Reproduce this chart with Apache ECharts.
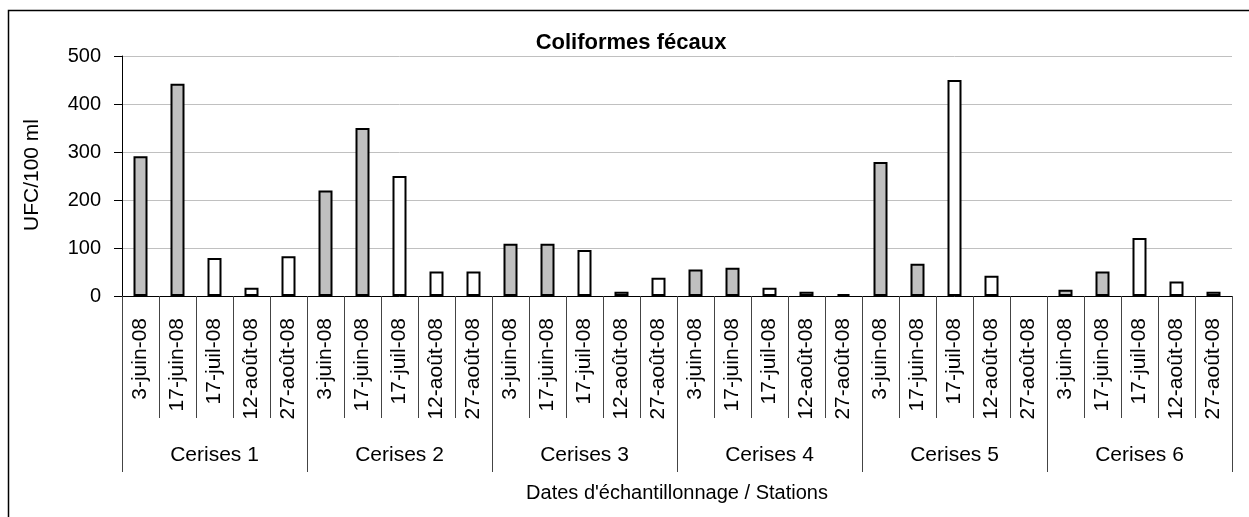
<!DOCTYPE html>
<html>
<head>
<meta charset="utf-8">
<script src="https://cdn.jsdelivr.net/npm/echarts@6/dist/echarts.min.js"></script>
<style>
  html, body { margin: 0; padding: 0; background: #fff; }
  #chart { width: 1249px; height: 517px; }
</style>
</head>
<body>
<div id="chart"></div>
<script>
const stations = ['Cerises 1', 'Cerises 2', 'Cerises 3', 'Cerises 4', 'Cerises 5', 'Cerises 6']
const dates = ['3-juin-08', '17-juin-08', '17-juil-08', '12-août-08', '27-août-08']
// UFC/100 ml, one row per station, in date order
const cerises1 = [291, 442, 79, 17, 83]
const cerises2 = [220, 350, 250, 51, 51]
const cerises3 = [109, 109, 96, 9, 38]
const cerises4 = [55, 59, 17, 9, 4]
const cerises5 = [279, 67, 450, 42, null]
const cerises6 = [13, 51, 121, 30, 9]
const yTicks = [0, 100, 200, 300, 400, 500]
// june samples are grey, the others white
const fillByDate = ['#c0c0c0', '#c0c0c0', '#ffffff', '#ffffff', '#ffffff']

const FONT = "'Liberation Sans', Arial, sans-serif"
const rows = [cerises1, cerises2, cerises3, cerises4, cerises5, cerises6]

const dateLabels = []
const barData = []
rows.forEach(row => {
  row.forEach((v, i) => {
    dateLabels.push(dates[i])
    barData.push({ value: v == null ? '-' : v, itemStyle: { color: fillByDate[i] } })
  })
})

const chart = echarts.init(document.getElementById('chart'), null, { renderer: 'canvas' })
chart.setOption({
  animation: false,
  backgroundColor: '#fff',
  textStyle: { fontFamily: FONT },
  grid: { left: 122, right: 17, top: 56, bottom: 221, containLabel: false },
  graphic: [
    {
      type: 'rect',
      shape: { x: 8.5, y: 10.5, width: 1400, height: 700 },
      style: { fill: null, stroke: '#000', lineWidth: 1.5 },
      silent: true
    },
    {
      type: 'text',
      x: 631, y: 43,
      style: {
        text: 'Coliformes fécaux', font: 'bold 22px ' + FONT,
        fill: '#000', align: 'center', verticalAlign: 'middle'
      }
    },
    {
      type: 'text',
      x: 32, y: 175, rotation: Math.PI / 2,
      style: {
        text: 'UFC/100 ml', font: '21px ' + FONT,
        fill: '#000', align: 'center', verticalAlign: 'middle'
      }
    },
    {
      type: 'text',
      x: 677, y: 493,
      style: {
        text: "Dates d'échantillonnage / Stations", font: '20px ' + FONT,
        fill: '#000', align: 'center', verticalAlign: 'middle'
      }
    }
  ],
  xAxis: [
    {
      type: 'category',
      data: dateLabels,
      boundaryGap: true,
      axisLine: { show: true, lineStyle: { color: '#000', width: 1 } },
      axisTick: { show: true, interval: 0, length: 122, lineStyle: { color: '#444' } },
      axisLabel: {
        interval: 0, rotate: 90, margin: 22,
        color: '#000', fontSize: 21, fontFamily: FONT
      }
    },
    {
      type: 'category',
      data: stations,
      position: 'bottom',
      offset: 122,
      boundaryGap: true,
      axisLine: { show: false },
      axisTick: { show: true, interval: 0, length: 54, lineStyle: { color: '#444' } },
      axisLabel: { interval: 0, margin: 27, color: '#000', fontSize: 21, fontFamily: FONT }
    }
  ],
  yAxis: {
    type: 'value',
    min: yTicks[0],
    max: yTicks[yTicks.length - 1],
    interval: 100,
    axisLine: { show: true, lineStyle: { color: '#000' } },
    axisTick: { show: true, length: 8, lineStyle: { color: '#000' } },
    axisLabel: { margin: 21, color: '#000', fontSize: 20, fontFamily: FONT },
    splitLine: { show: true, lineStyle: { color: '#c0c0c0', width: 1 } }
  },
  series: [
    {
      type: 'bar',
      xAxisIndex: 0,
      data: barData,
      barWidth: 14,
      itemStyle: { borderColor: '#000', borderWidth: 2 }
    }
  ]
})
</script>
</body>
</html>
